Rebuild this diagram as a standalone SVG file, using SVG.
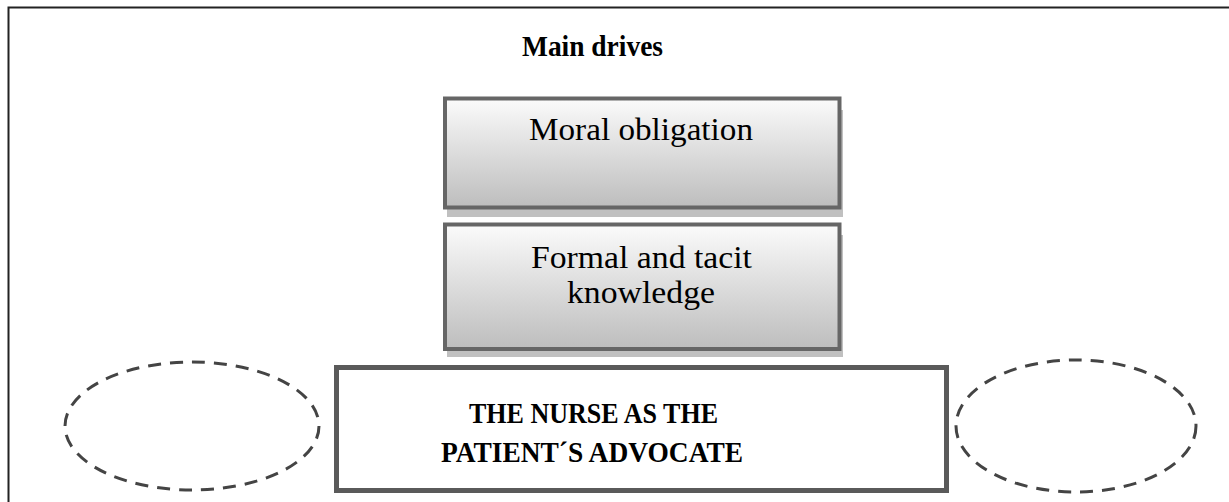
<svg xmlns="http://www.w3.org/2000/svg" width="1229" height="502" viewBox="0 0 1229 502">
<defs>
<linearGradient id="g" x1="0" y1="0" x2="0" y2="1">
<stop offset="0" stop-color="#fbfbfb"/>
<stop offset="1" stop-color="#bdbdbd"/>
</linearGradient>
</defs>
<style>
.box{fill:url(#g);stroke:#666;stroke-width:4}
.shadow{fill:#c0c0c0}
.reg{font-family:"Liberation Serif","Times New Roman",serif;font-size:31px;fill:#000}
.bold{font-family:"Liberation Serif","Times New Roman",serif;font-size:30px;font-weight:bold;fill:#000}
.ell{fill:none;stroke:#444;stroke-width:3;stroke-dasharray:13 9}
</style>
<rect width="1229" height="502" fill="#fff"/>
<rect id="frame" x="8.5" y="7.5" width="1300" height="600" fill="none" stroke="#222" stroke-width="2"/>
<g id="title">
<text class="bold" x="592.5" y="56" text-anchor="middle" textLength="141" lengthAdjust="spacingAndGlyphs">Main drives</text>
</g>
<g id="moral">
<rect class="shadow" x="447" y="110" width="396" height="107"/>
<rect class="box" x="445" y="98.5" width="394.5" height="109"/>
<text class="reg" x="641" y="140" text-anchor="middle" textLength="224" lengthAdjust="spacingAndGlyphs">Moral obligation</text>
</g>
<g id="knowledge">
<rect class="shadow" x="447" y="235" width="396" height="122"/>
<rect class="box" x="445" y="224.5" width="394.5" height="124.5"/>
<text class="reg" x="641.5" y="268" text-anchor="middle" textLength="221" lengthAdjust="spacingAndGlyphs">Formal and tacit</text>
<text class="reg" x="641" y="303" text-anchor="middle" textLength="148" lengthAdjust="spacingAndGlyphs">knowledge</text>
</g>
<g id="nurse">
<rect x="336.5" y="367.5" width="610" height="123" fill="#fff" stroke="#5a5a5a" stroke-width="5"/>
<text class="bold" x="593.5" y="423" text-anchor="middle" textLength="249" lengthAdjust="spacingAndGlyphs">THE NURSE AS THE</text>
<text class="bold" x="592" y="462" text-anchor="middle" textLength="302" lengthAdjust="spacingAndGlyphs">PATIENT´S ADVOCATE</text>
</g>
<g id="left-ellipse">
<ellipse class="ell" cx="192" cy="426" rx="127" ry="64"/>
</g>
<g id="right-ellipse">
<ellipse class="ell" cx="1076" cy="426" rx="120" ry="66"/>
</g>
<g id="connectors"></g>
</svg>
